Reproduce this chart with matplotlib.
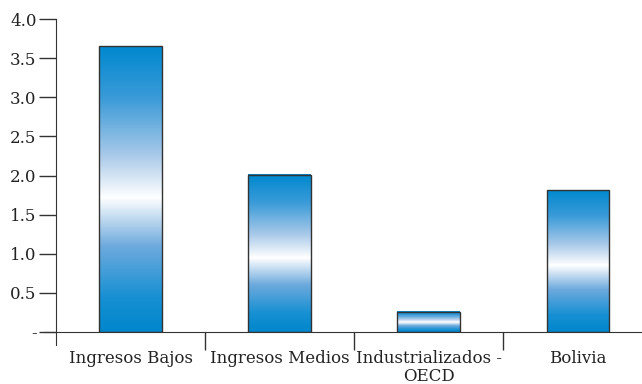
import numpy as np
import matplotlib
matplotlib.use("Agg")
import matplotlib.pyplot as plt
from matplotlib.colors import LinearSegmentedColormap
from matplotlib.ticker import FixedLocator, FixedFormatter, NullFormatter

categories = ["Ingresos Bajos", "Ingresos Medios", "Industrializados -\nOECD", "Bolivia"]
values = [3.65, 2.01, 0.26, 1.81]
ytick_vals = [0, 0.5, 1.0, 1.5, 2.0, 2.5, 3.0, 3.5, 4.0]
ytick_labels = ["-", "0.5", "1.0", "1.5", "2.0", "2.5", "3.0", "3.5", "4.0"]

plt.rcParams['font.family'] = ['DejaVu Serif']

# blue -> white -> blue vertical gradient
grad = LinearSegmentedColormap.from_list("bar_grad", [
    (0.0, "#0086cc"), (0.12, "#1790d3"), (0.30, "#6eaadd"),
    (0.47, "#ffffff"), (0.62, "#a8c9e9"), (0.82, "#3a9bd8"), (1.0, "#0088cf")])

fig = plt.figure(figsize=(6.42, 3.84), dpi=100)
ax = fig.add_axes([0.0872, 0.1354, 0.9128, 0.8151])

x = np.arange(len(categories)) + 0.5
width = 0.42
column = np.linspace(0, 1, 256).reshape(-1, 1)
for xi, v in zip(x, values):
    ax.imshow(column, extent=(xi - width / 2, xi + width / 2, 0, v), origin="lower",
              aspect="auto", cmap=grad, zorder=2)
    ax.bar(xi, v, width=width, facecolor="none", edgecolor="#333333", linewidth=1.0, zorder=3)

ax.set_xlim(0, 3.93)
ax.set_ylim(0, 4.0)

for s in ["top", "right"]:
    ax.spines[s].set_visible(False)
ax.spines["left"].set_bounds(-0.16, 4.0)
ax.spines["left"].set_clip_on(False)
ax.spines["bottom"].set_bounds(-0.08, 3.93)
ax.spines["bottom"].set_clip_on(False)
ax.spines["left"].set_color("#333333")
ax.spines["bottom"].set_color("#333333")

ax.yaxis.set_major_locator(FixedLocator(ytick_vals))
ax.yaxis.set_major_formatter(FixedFormatter(ytick_labels))
ax.tick_params(axis="y", direction="out", length=12, width=1, color="#333333",
               labelsize=12, labelcolor="#222222", pad=2)

ax.xaxis.set_major_locator(FixedLocator([1, 2, 3]))
ax.xaxis.set_major_formatter(NullFormatter())
ax.xaxis.set_minor_locator(FixedLocator(x))
ax.xaxis.set_minor_formatter(FixedFormatter(categories))
ax.tick_params(axis="x", which="major", direction="out", length=13, width=1, color="#333333")
ax.tick_params(axis="x", which="minor", length=0, pad=13, labelsize=12, labelcolor="#222222")
for lbl in ax.xaxis.get_minorticklabels():
    lbl.set_linespacing(1.05)

fig.savefig("out.png", dpi=100)
